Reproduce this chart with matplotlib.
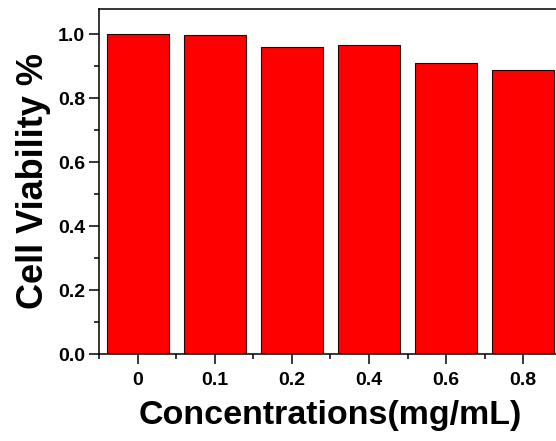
import matplotlib.pyplot as plt
from matplotlib.ticker import MultipleLocator, FixedLocator

# data
concentrations = ['0', '0.1', '0.2', '0.4', '0.6', '0.8']
viability = [1.0, 0.997, 0.961, 0.966, 0.910, 0.888]

plt.rcParams['font.family'] = ['Liberation Sans', 'DejaVu Sans']
plt.rcParams['font.weight'] = 'bold'

fig = plt.figure(figsize=(5.56, 4.41), dpi=100)
ax = fig.add_axes([0.178, 0.197, 0.832, 0.783])

x = list(range(len(concentrations)))
ax.bar(x, viability, width=0.8, color='#ff0000', edgecolor='#2a0000', linewidth=0.8)

ax.set_xlim(-0.506, len(concentrations) - 0.5)
ax.set_ylim(0, 1.08)

ax.set_xticks(x)
ax.set_xticklabels(concentrations)
ax.xaxis.set_minor_locator(FixedLocator([i + 0.5 for i in range(-1, len(x))]))
ax.yaxis.set_major_locator(MultipleLocator(0.2))
ax.yaxis.set_minor_locator(MultipleLocator(0.1))
ax.yaxis.set_major_formatter(plt.FormatStrFormatter('%.1f'))

ax.tick_params(axis='both', which='major', direction='out', length=7, width=1.1,
               labelsize=14)
ax.tick_params(axis='both', which='minor', direction='out', length=3.5, width=1.1)
ax.tick_params(axis='x', which='major', pad=6)
ax.tick_params(axis='y', which='major', pad=3)
for lab in ax.get_xticklabels() + ax.get_yticklabels():
    lab.set_fontweight('bold')

for s in ax.spines.values():
    s.set_linewidth(1.1)

ax.set_xlabel('Concentrations(mg/mL)', fontsize=24.5, fontweight='bold', labelpad=8)
ax.set_ylabel('Cell Viability %', fontsize=26, fontweight='bold', labelpad=5)

plt.savefig('out.png', dpi=100)
